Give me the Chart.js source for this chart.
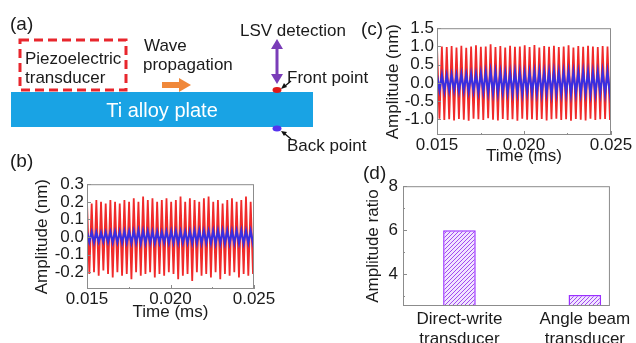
<!DOCTYPE html>
<html>
<head>
<meta charset="utf-8">
<script src="https://cdn.jsdelivr.net/npm/chart.js@4.4.1/dist/chart.umd.min.js"></script>
<style>
    body { margin: 0; background: #fff; }
    #page { position: relative; width: 636px; height: 343px; overflow: hidden; font-family: Arial, "Liberation Sans", sans-serif; color: #1a1a1a; }
    .t { position: absolute; white-space: nowrap; line-height: 1; font-size: 17px; }
    .lbl { font-size: 19px; }
    canvas { position: absolute; }
    svg { position: absolute; left: 0; top: 0; }
</style>
</head>
<body>
<div id="page">
    <canvas id="chartB" width="247" height="152" style="left:32px;top:171px"></canvas>
    <canvas id="chartC" width="253" height="152" style="left:383px;top:15px"></canvas>
    <canvas id="chartD" width="273" height="172" style="left:363px;top:171px"></canvas>

    <!-- schematic of panel (a) -->
    <svg width="636" height="170">
        <rect x="20" y="40" width="106" height="50" fill="none" stroke="#e8262d" stroke-width="3" stroke-dasharray="9 5"/>
        <rect x="11" y="92" width="302" height="35" fill="#19a3e4"/>
        <line x1="162" y1="85" x2="181" y2="85" stroke="#f0883a" stroke-width="6"/>
        <polygon points="179,78 191,85 179,92" fill="#f0883a"/>
        <line x1="277" y1="47" x2="277" y2="76" stroke="#7a3db8" stroke-width="3"/>
        <polygon points="271,49 277,39 283,49" fill="#7a3db8"/>
        <polygon points="271,74 277,84 283,74" fill="#7a3db8"/>
        <ellipse cx="277" cy="90" rx="4.5" ry="3" fill="#e01a1a"/>
        <ellipse cx="277" cy="128.5" rx="4.5" ry="3" fill="#5533ee"/>
        <line x1="291" y1="81" x2="285" y2="86" stroke="#111" stroke-width="1.3"/>
        <polygon points="281,89 284,83 287,87" fill="#111"/>
        <line x1="291" y1="139" x2="285" y2="134" stroke="#111" stroke-width="1.3"/>
        <polygon points="281,131 287,132 284,136" fill="#111"/>
    </svg>

    <div class="t lbl" style="left:10px;top:14px">(a)</div>
    <div class="t lbl" style="left:10px;top:151px">(b)</div>
    <div class="t lbl" style="left:361px;top:19px">(c)</div>
    <div class="t lbl" style="left:363px;top:163px">(d)</div>

    <div class="t" style="left:25px;top:50px">Piezoelectric</div>
    <div class="t" style="left:25px;top:69px">transducer</div>
    <div class="t" style="left:144px;top:37px">Wave</div>
    <div class="t" style="left:143px;top:56px">propagation</div>
    <div class="t" style="left:240px;top:22px">LSV detection</div>
    <div class="t" style="left:287px;top:69px">Front point</div>
    <div class="t" style="left:287px;top:137px">Back point</div>
    <div class="t" style="left:11px;top:100px;width:302px;text-align:center;color:#fff;font-size:20px">Ti alloy plate</div>
</div>

<script>
// sample times (ms), one sample per half cycle of the burst
const timeMs = [
    0.01500, 0.01514, 0.01528, 0.01542, 0.01556, 0.01570, 0.01584, 0.01598, 0.01612, 0.01626,
    0.01640, 0.01654, 0.01668, 0.01682, 0.01696, 0.01710, 0.01724, 0.01738, 0.01752, 0.01766,
    0.01780, 0.01794, 0.01808, 0.01822, 0.01836, 0.01850, 0.01864, 0.01878, 0.01892, 0.01906,
    0.01920, 0.01934, 0.01948, 0.01962, 0.01976, 0.01990, 0.02004, 0.02018, 0.02032, 0.02046,
    0.02060, 0.02074, 0.02088, 0.02102, 0.02116, 0.02130, 0.02144, 0.02158, 0.02172, 0.02186,
    0.02200, 0.02214, 0.02228, 0.02242, 0.02256, 0.02270, 0.02284, 0.02298, 0.02312, 0.02326,
    0.02340, 0.02354, 0.02368, 0.02382, 0.02396, 0.02410, 0.02424, 0.02438, 0.02452, 0.02466,
    0.02480, 0.02494, 0.02508
];

// (b) front point (red) / back point (blue), nm
const frontB = [
    0.20, -0.21, 0.19, -0.20, 0.21, -0.22, 0.20, -0.19, 0.19, -0.21,
    0.21, -0.23, 0.20, -0.20, 0.19, -0.22, 0.21, -0.21, 0.20, -0.24,
    0.22, -0.20, 0.20, -0.22, 0.23, -0.21, 0.21, -0.20, 0.22, -0.23,
    0.20, -0.21, 0.21, -0.22, 0.22, -0.20, 0.20, -0.21, 0.21, -0.24,
    0.23, -0.22, 0.20, -0.21, 0.22, -0.25, 0.21, -0.20, 0.20, -0.22,
    0.22, -0.21, 0.23, -0.23, 0.20, -0.20, 0.21, -0.24, 0.19, -0.21,
    0.21, -0.22, 0.22, -0.20, 0.20, -0.23, 0.21, -0.21, 0.23, -0.22,
    0.20, -0.21, 0.21
];
const backB = [
    0.030, -0.028, 0.028, -0.030, 0.026, -0.027, 0.025, -0.026, 0.027, -0.028,
    0.029, -0.030, 0.031, -0.029, 0.030, -0.032, 0.033, -0.031, 0.032, -0.033,
    0.034, -0.032, 0.036, -0.035, 0.035, -0.034, 0.033, -0.032, 0.031, -0.033,
    0.030, -0.031, 0.029, -0.030, 0.031, -0.032, 0.033, -0.031, 0.034, -0.033,
    0.032, -0.031, 0.030, -0.032, 0.033, -0.034, 0.035, -0.033, 0.036, -0.035,
    0.034, -0.032, 0.033, -0.034, 0.035, -0.036, 0.037, -0.035, 0.036, -0.034,
    0.035, -0.036, 0.034, -0.033, 0.035, -0.034, 0.036, -0.035, 0.034, -0.033,
    0.035, -0.034, 0.033
];

// (c) front point (red) / back point (blue), nm
const frontC = [
    1.00, -0.98, 1.00, -1.02, 0.98, -1.00, 1.01, -1.03, 0.97, -0.99,
    1.02, -1.01, 0.96, -1.04, 1.00, -0.98, 1.03, -1.00, 0.99, -1.02,
    1.00, -0.97, 1.06, -1.01, 0.98, -1.03, 1.01, -0.99, 0.97, -1.02,
    1.02, -1.00, 0.99, -1.04, 1.00, -0.98, 1.03, -1.01, 0.98, -1.00,
    1.04, -1.02, 0.97, -0.99, 1.01, -1.03, 0.99, -1.00, 1.02, -0.98,
    0.98, -1.02, 1.00, -1.00, 1.03, -1.04, 0.97, -0.99, 1.01, -1.01,
    0.99, -1.03, 1.02, -0.98, 1.00, -1.02, 0.98, -1.00, 1.01, -0.99,
    1.00, -1.02, 1.00
];
const backC = [
    0.22, -0.20, 0.21, -0.22, 0.20, -0.21, 0.22, -0.20, 0.21, -0.22,
    0.23, -0.21, 0.22, -0.23, 0.24, -0.22, 0.23, -0.25, 0.26, -0.24,
    0.28, -0.26, 0.30, -0.27, 0.29, -0.28, 0.27, -0.26, 0.26, -0.27,
    0.27, -0.28, 0.29, -0.27, 0.28, -0.29, 0.27, -0.26, 0.28, -0.27,
    0.29, -0.28, 0.30, -0.29, 0.28, -0.27, 0.29, -0.30, 0.30, -0.28,
    0.28, -0.29, 0.29, -0.28, 0.30, -0.30, 0.29, -0.28, 0.28, -0.29,
    0.30, -0.28, 0.29, -0.30, 0.28, -0.29, 0.29, -0.28, 0.30, -0.29,
    0.29, -0.30, 0.28
];

// (d) amplitude ratio
const barLabels = [ [ 'Direct-write', 'transducer' ], [ 'Angle beam', 'transducer' ] ];
const barPos = [ 1, 2 ];
const ratio = [ 6.0, 3.05 ];

// tick values
const timeTicks = [ 0.015, 0.020, 0.025 ];
const timeMinor = [ 0.0175, 0.0225 ];
const ticksB = [ -0.2, -0.1, 0.0, 0.1, 0.2, 0.3 ];
const ticksC = [ -1.0, -0.5, 0.0, 0.5, 1.0, 1.5 ];
const ticksD = [ 4, 6, 8 ];
const minorD = [ 3, 5, 7 ];

Chart.defaults.font.family = 'Arial, "Liberation Sans", sans-serif';
Chart.defaults.font.size = 17;
Chart.defaults.color = '#1a1a1a';
Chart.defaults.animation = false;

// grey box around the plot area plus short inward ticks
const framePlugin = {
    id: 'frame',
    afterDatasetsDraw ( chart, args, opts )
    {
        const { ctx, chartArea: a, scales } = chart;
        ctx.save();
        ctx.strokeStyle = '#8c8c8c';
        ctx.lineWidth = 1;
        ctx.strokeRect( a.left + 0.5, a.top + 0.5, a.right - a.left - 1, a.bottom - a.top - 1 );
        ctx.beginPath();
        ( opts.yMajor || [] ).forEach( v =>
        {
            const y = Math.round( scales.y.getPixelForValue( v ) ) + 0.5;
            ctx.moveTo( a.left, y ); ctx.lineTo( a.left + 4, y );
        } );
        ( opts.yMinor || [] ).forEach( v =>
        {
            const y = Math.round( scales.y.getPixelForValue( v ) ) + 0.5;
            ctx.moveTo( a.left, y ); ctx.lineTo( a.left + 2, y );
        } );
        ( opts.xMajor || [] ).forEach( v =>
        {
            const x = Math.round( scales.x.getPixelForValue( v ) ) + 0.5;
            ctx.moveTo( x, a.bottom ); ctx.lineTo( x, a.bottom - 4 );
        } );
        ( opts.xMinor || [] ).forEach( v =>
        {
            const x = Math.round( scales.x.getPixelForValue( v ) ) + 0.5;
            ctx.moveTo( x, a.bottom ); ctx.lineTo( x, a.bottom - 2 );
        } );
        ctx.stroke();
        ctx.restore();
    }
};

function toPoints ( values )
{
    return values.map( ( v, i ) => ( { x: timeMs[ i ], y: v } ) );
}

function waveChart ( id, front, back, yMin, yMax, yTicks, yWidth, xHeight )
{
    return new Chart( document.getElementById( id ), {
        type: 'line',
        data: {
            datasets: [
                { data: toPoints( back ), borderColor: '#3a2ee0', borderWidth: 2.2, pointRadius: 0, order: 0 },
                { data: toPoints( front ), borderColor: '#f02a2a', borderWidth: 1.8, pointRadius: 0, order: 1 }
            ]
        },
        options: {
            responsive: false,
            layout: { padding: { top: 0, right: 25, left: 0, bottom: 0 } },
            plugins: {
                legend: { display: false },
                tooltip: { enabled: false },
                frame: { yMajor: yTicks, xMajor: timeTicks, xMinor: timeMinor }
            },
            scales: {
                x: {
                    type: 'linear',
                    min: 0.015,
                    max: 0.025,
                    grid: { display: false, drawTicks: false },
                    border: { display: false },
                    afterBuildTicks: s => { s.ticks = timeTicks.map( v => ( { value: v } ) ); },
                    afterFit: s => { s.height = xHeight; },
                    ticks: { padding: 0, maxRotation: 0, autoSkip: false, callback: v => v.toFixed( 3 ) },
                    title: { display: true, text: 'Time (ms)', padding: 0 }
                },
                y: {
                    min: yMin,
                    max: yMax,
                    grid: { display: false, drawTicks: false },
                    border: { display: false },
                    afterBuildTicks: s => { s.ticks = yTicks.map( v => ( { value: v } ) ); },
                    afterFit: s => { s.width = yWidth; },
                    ticks: { padding: 3, autoSkip: false, callback: v => v.toFixed( 1 ) },
                    title: { display: true, text: 'Amplitude (nm)', padding: 0 }
                }
            }
        },
        plugins: [ framePlugin ]
    } );
}

waveChart( 'chartB', frontB, backB, -0.295, 0.3, ticksB, 55, 34 );
waveChart( 'chartC', frontC, backC, -1.43, 1.5, ticksC, 54, 32 );

// hatched fill for the ratio bars
function hatchPattern ( ctx )
{
    const c = document.createElement( 'canvas' );
    c.width = 4; c.height = 4;
    const g = c.getContext( '2d' );
    g.fillStyle = '#f1e4ff';
    g.fillRect( 0, 0, 4, 4 );
    g.strokeStyle = '#a24bf0';
    g.lineWidth = 1;
    g.beginPath();
    g.moveTo( 0, 4 ); g.lineTo( 4, 0 );
    g.moveTo( -1, 1 ); g.lineTo( 1, -1 );
    g.moveTo( 3, 5 ); g.lineTo( 5, 3 );
    g.stroke();
    return ctx.createPattern( c, 'repeat' );
}

const canvasD = document.getElementById( 'chartD' );
new Chart( canvasD, {
    type: 'bar',
    data: {
        datasets: [ {
            data: barPos.map( ( p, i ) => ( { x: p, y: ratio[ i ] } ) ),
            backgroundColor: hatchPattern( canvasD.getContext( '2d' ) ),
            borderColor: '#9b30ff',
            borderWidth: 1.5,
            barPercentage: 0.26,
            categoryPercentage: 1
        } ]
    },
    options: {
        responsive: false,
        layout: { padding: { top: 0, right: 23, left: 0, bottom: 0 } },
        plugins: {
            legend: { display: false },
            tooltip: { enabled: false },
            frame: { yMajor: ticksD, yMinor: minorD }
        },
        scales: {
            x: {
                type: 'linear',
                offset: false,
                min: 0.55,
                max: 2.2,
                grid: { display: false, drawTicks: false },
                border: { display: false },
                afterBuildTicks: s => { s.ticks = barPos.map( v => ( { value: v } ) ); },
                afterFit: s => { s.height = 37; },
                ticks: { padding: 3, maxRotation: 0, autoSkip: false, callback: ( v, i ) => barLabels[ i ] }
            },
            y: {
                min: 2.55,
                max: 8,
                grid: { display: false, drawTicks: false },
                border: { display: false },
                afterBuildTicks: s => { s.ticks = ticksD.map( v => ( { value: v } ) ); },
                afterFit: s => { s.width = 40; },
                ticks: { padding: 5, autoSkip: false },
                title: { display: true, text: 'Amplitude ratio', padding: 0 }
            }
        }
    },
    plugins: [ framePlugin ]
} );
</script>
</body>
</html>
